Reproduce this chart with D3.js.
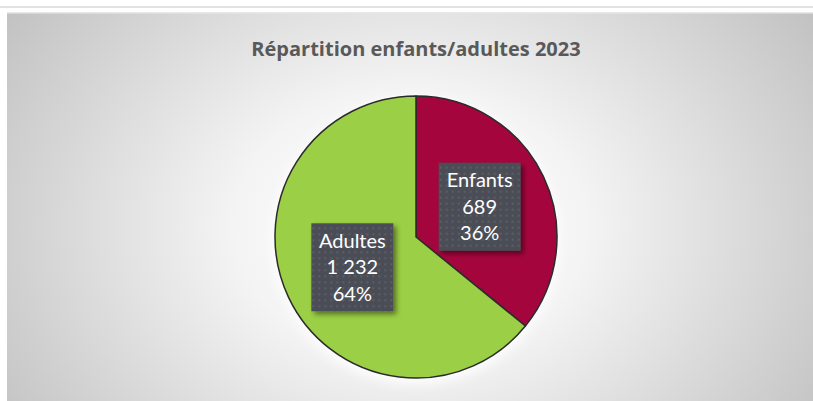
<!DOCTYPE html>
<html>
<head>
<meta charset="utf-8">
<script src="https://cdn.jsdelivr.net/npm/d3@7"></script>
<style>
  html, body { margin: 0; padding: 0; background: #ffffff; }
  svg { display: block; }
</style>
</head>
<body>
<svg id="chart" width="813" height="401"></svg>
<script>
// Chart data
const categories = ["Enfants", "Adultes"];
const values = [689, 1232];
const valueLabels = ["689", "1 232"];
const percentLabels = ["36%", "64%"];
const colors = ["#A5053D", "#9BCF45"];
const title = "Répartition enfants/adultes 2023";

const svg = d3.select("#chart");
const W = 813, H = 401;
const defs = svg.append("defs");

// Background radial gradient of the chart area
const bg = defs.append("radialGradient").attr("id", "bgGrad")
  .attr("cx", "50%").attr("cy", "55%").attr("r", "62%")
  .attr("gradientTransform", "translate(0.5,0.55) scale(1,1.6) translate(-0.5,-0.55)");
bg.append("stop").attr("offset", "0%").attr("stop-color", "#ffffff");
bg.append("stop").attr("offset", "35%").attr("stop-color", "#f4f4f4");
bg.append("stop").attr("offset", "100%").attr("stop-color", "#c0c0c0");

// Dotted fill for the data label boxes
const pat = defs.append("pattern").attr("id", "dots")
  .attr("width", 6).attr("height", 6).attr("patternUnits", "userSpaceOnUse");
pat.append("rect").attr("width", 6).attr("height", 6).attr("fill", "#4b4e56");
pat.append("rect").attr("x", 2).attr("y", 2).attr("width", 2).attr("height", 2).attr("fill", "#5a5d65");

// Shadows
const sh = defs.append("filter").attr("id", "boxShadow")
  .attr("x", "-20%").attr("y", "-20%").attr("width", "150%").attr("height", "150%");
sh.append("feDropShadow").attr("dx", 3).attr("dy", 3).attr("stdDeviation", 2.5)
  .attr("flood-color", "#000").attr("flood-opacity", 0.45);

const glow = defs.append("filter").attr("id", "pieGlow")
  .attr("x", "-20%").attr("y", "-20%").attr("width", "140%").attr("height", "140%");
glow.append("feDropShadow").attr("dx", 0).attr("dy", 4).attr("stdDeviation", 6)
  .attr("flood-color", "#ffffff").attr("flood-opacity", 0.9);

// Top separator line and chart area
svg.append("rect").attr("x", 0).attr("y", 6).attr("width", W).attr("height", 2).attr("fill", "#e2e2e2");
svg.append("rect").attr("x", 7).attr("y", 12).attr("width", W - 7).attr("height", H - 12)
  .attr("fill", "url(#bgGrad)");
svg.append("rect").attr("x", 7).attr("y", 12).attr("width", W - 7).attr("height", 1.5)
  .attr("fill", "#e8e8e8");

// Title
svg.append("text")
  .attr("x", 416).attr("y", 56)
  .attr("text-anchor", "middle")
  .attr("font-family", "'Open Sans', Lato, sans-serif")
  .attr("font-weight", "bold")
  .attr("font-size", 20)
  .attr("fill", "#595959")
  .text(title);

// Pie
const cx = 416, cy = 237, R = 141;
const pie = d3.pie().sort(null).value(d => d)(values);
const arc = d3.arc().innerRadius(0).outerRadius(R);

const g = svg.append("g").attr("transform", `translate(${cx},${cy})`);
g.append("circle").attr("r", R + 2).attr("fill", "#fafafa").attr("filter", "url(#pieGlow)");
g.selectAll("path.slice")
  .data(pie)
  .join("path")
  .attr("class", "slice")
  .attr("d", arc)
  .attr("fill", (d, i) => colors[i])
  .attr("stroke", "#2b2b2b")
  .attr("stroke-width", 1.5)
  .attr("stroke-linejoin", "round");

// Data labels (boxes placed along each slice's centroid)
const labelArc = d3.arc().innerRadius(R * 0.5).outerRadius(R * 0.5);
const boxW = 82, boxH = 88, lineGap = 26.5;

const labels = g.selectAll("g.label")
  .data(pie)
  .join("g")
  .attr("class", "label")
  .attr("transform", d => {
    const [x, y] = labelArc.centroid(d);
    return `translate(${x},${y})`;
  });

labels.append("rect")
  .attr("x", -boxW / 2).attr("y", -boxH / 2)
  .attr("width", boxW).attr("height", boxH)
  .attr("fill", "url(#dots)")
  .attr("filter", "url(#boxShadow)");

labels.each(function (d, i) {
  const lines = [categories[i], valueLabels[i], percentLabels[i]];
  d3.select(this).selectAll("text")
    .data(lines)
    .join("text")
    .attr("x", 0)
    .attr("y", (t, k) => (k - 1) * lineGap + 7)
    .attr("text-anchor", "middle")
    .attr("font-family", "Lato, 'Open Sans', sans-serif")
    .attr("font-size", 20)
    .attr("fill", "#ffffff")
    .text(t => t);
});
</script>
</body>
</html>
